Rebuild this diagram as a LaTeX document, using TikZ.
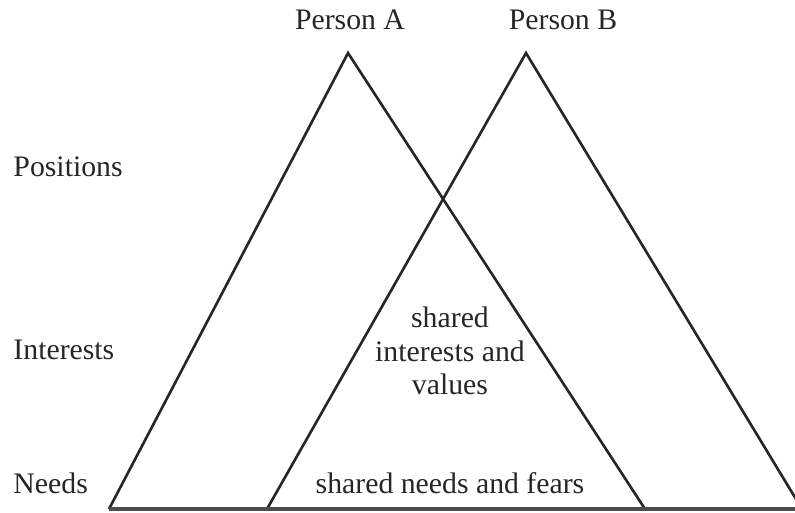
\documentclass[tikz,border=0pt]{standalone}
\usepackage{fontspec}
\setmainfont{Liberation Serif}

\begin{document}
\begin{tikzpicture}[x=0.42pt,y=-0.42pt,
  txt/.style={inner sep=0pt,text=black!85,font=\fontsize{12.5}{14}\selectfont},
  level/.style={txt,anchor=base west},
  side/.style={line width=1.1pt,black!85},
  ground/.style={line width=1.4pt,black!70}]
  \clip (0,0) rectangle (795,512);

  % corners of the two triangles
  \coordinate (apexA) at (348,53);
  \coordinate (leftA) at (109,509);
  \coordinate (rightA) at (645,509);
  \coordinate (apexB) at (526,53);
  \coordinate (leftB) at (267,509);
  \coordinate (rightB) at (802,509);

  \draw[side] (leftA) -- (apexA) -- (rightA);
  \draw[side] (leftB) -- (apexB) -- (rightB);
  \draw[ground] (leftA) -- (rightB);

  \node[txt,anchor=base] (personA) at (350,29) {Person A};
  \node[txt,anchor=base] (personB) at (563,29) {Person B};

  \node[level] (positions) at (13,176) {Positions};
  \node[level] (interests) at (13,359) {Interests};
  \node[level] (needs) at (13,493) {Needs};

  \node[txt,align=center] (sharedint) at (450,351) {shared\\interests and\\values};
  \node[txt,anchor=base] (sharedneeds) at (450,493) {shared needs and fears};
\end{tikzpicture}
\end{document}
